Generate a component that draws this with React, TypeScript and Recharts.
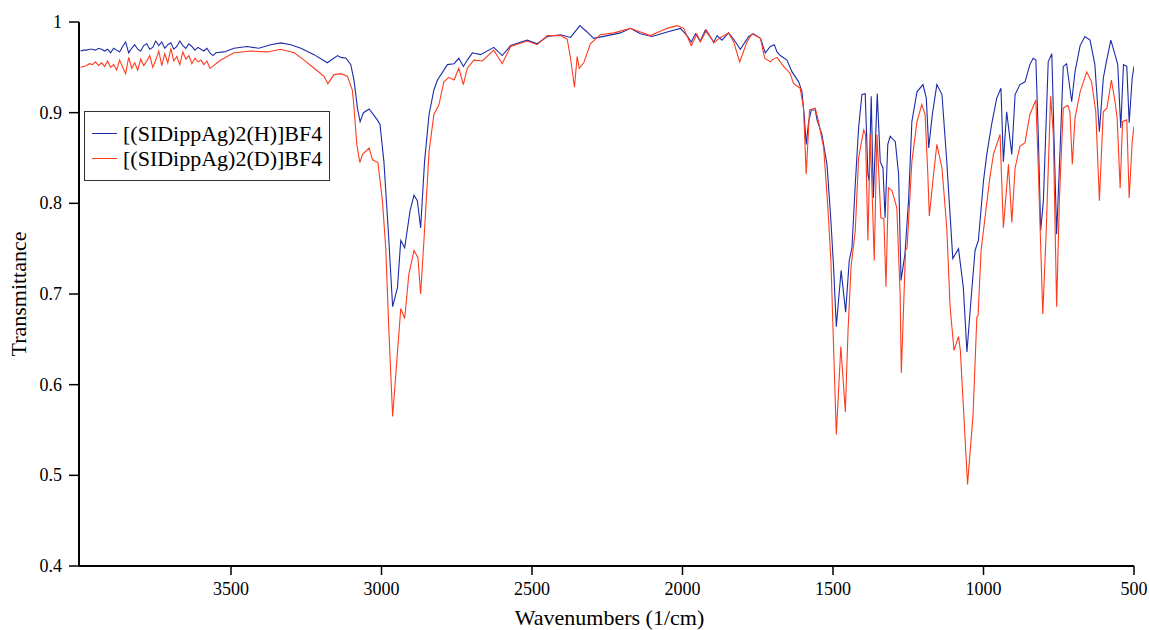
import React from 'react';
import { LineChart, Line, XAxis, YAxis, Legend, Label } from 'recharts';

const FONT = '"Liberation Serif", "Times New Roman", Times, serif';

const H_NAME = '[(SIDippAg)2(H)]BF4';
const D_NAME = '[(SIDippAg)2(D)]BF4';
const H_COLOR = '#1c2ca8';
const D_COLOR = '#ff3c1e';

const xTicks = [3500, 3000, 2500, 2000, 1500, 1000, 500];
const yTicks = [0.4, 0.5, 0.6, 0.7, 0.8, 0.9, 1];
const xDomain: [number, number] = [500, 4005];
const yDomain: [number, number] = [0.4, 1];

// [wavenumber (1/cm), transmittance]
const hSpectrum: [number, number][] = [
  [4000, 0.968], [3990, 0.969], [3980, 0.969], [3970, 0.970], [3960, 0.970], [3950, 0.969],
  [3940, 0.971], [3930, 0.970], [3920, 0.968], [3910, 0.970], [3900, 0.966], [3890, 0.971],
  [3880, 0.969], [3870, 0.967], [3860, 0.973], [3850, 0.978], [3840, 0.966], [3830, 0.971],
  [3820, 0.975], [3810, 0.970], [3800, 0.968], [3790, 0.974], [3780, 0.976], [3770, 0.970],
  [3760, 0.972], [3750, 0.979], [3740, 0.974], [3730, 0.978], [3720, 0.971], [3710, 0.975],
  [3700, 0.977], [3690, 0.970], [3680, 0.973], [3670, 0.979], [3660, 0.974], [3650, 0.971],
  [3640, 0.976], [3630, 0.973], [3620, 0.969], [3610, 0.972], [3600, 0.970], [3590, 0.968],
  [3580, 0.971], [3570, 0.966], [3560, 0.963], [3550, 0.966],
  [3523, 0.967], [3490, 0.971], [3447, 0.973], [3408, 0.971], [3368, 0.975], [3335, 0.977],
  [3301, 0.975], [3268, 0.971], [3224, 0.964], [3180, 0.955], [3146, 0.963], [3135, 0.961],
  [3118, 0.960], [3102, 0.953], [3091, 0.935], [3080, 0.905], [3071, 0.890], [3060, 0.900],
  [3041, 0.904], [3014, 0.892], [3005, 0.887], [2992, 0.846], [2978, 0.773], [2963, 0.686],
  [2947, 0.707], [2936, 0.759], [2923, 0.751], [2905, 0.792], [2892, 0.809], [2881, 0.803],
  [2870, 0.773], [2857, 0.846], [2842, 0.898], [2826, 0.925], [2814, 0.936], [2781, 0.953],
  [2759, 0.954], [2743, 0.960], [2728, 0.951], [2715, 0.958], [2698, 0.966], [2671, 0.964],
  [2627, 0.972], [2599, 0.963], [2571, 0.974], [2516, 0.980], [2483, 0.976], [2449, 0.984],
  [2405, 0.986], [2372, 0.983], [2341, 0.996], [2317, 0.989], [2295, 0.982], [2250, 0.985],
  [2206, 0.988], [2173, 0.993], [2140, 0.987], [2101, 0.984], [2051, 0.989], [2007, 0.993],
  [1985, 0.985], [1971, 0.978], [1957, 0.987], [1941, 0.979], [1924, 0.991], [1896, 0.978],
  [1885, 0.985], [1869, 0.980], [1847, 0.988], [1830, 0.981], [1808, 0.970], [1780, 0.984],
  [1764, 0.987], [1741, 0.982], [1725, 0.966], [1708, 0.973], [1695, 0.975], [1686, 0.967],
  [1675, 0.963], [1653, 0.958], [1636, 0.945], [1614, 0.934], [1603, 0.923], [1595, 0.894],
  [1589, 0.865], [1581, 0.890], [1572, 0.903], [1559, 0.903], [1553, 0.892], [1537, 0.876],
  [1520, 0.843], [1507, 0.781], [1498, 0.729], [1489, 0.664], [1473, 0.726], [1458, 0.680],
  [1446, 0.737], [1437, 0.751], [1426, 0.821], [1415, 0.883], [1404, 0.920], [1393, 0.921],
  [1384, 0.832], [1380, 0.825], [1373, 0.918], [1366, 0.806], [1353, 0.921], [1343, 0.846],
  [1334, 0.839], [1327, 0.784], [1318, 0.865], [1310, 0.874], [1293, 0.868], [1282, 0.832],
  [1274, 0.715], [1261, 0.744], [1249, 0.803], [1238, 0.890], [1221, 0.923], [1201, 0.931],
  [1190, 0.916], [1182, 0.861], [1170, 0.898], [1155, 0.931], [1138, 0.920], [1122, 0.846],
  [1102, 0.739], [1083, 0.750], [1067, 0.707], [1055, 0.636], [1040, 0.700], [1028, 0.748],
  [1017, 0.759], [1000, 0.825], [989, 0.854], [973, 0.887], [956, 0.916], [942, 0.927],
  [934, 0.846], [923, 0.901], [906, 0.854], [895, 0.920], [879, 0.931], [862, 0.934],
  [846, 0.953], [835, 0.960], [826, 0.958], [818, 0.876], [810, 0.770], [801, 0.803],
  [785, 0.956], [773, 0.965], [766, 0.876], [757, 0.766], [748, 0.839], [735, 0.951],
  [724, 0.954], [707, 0.912], [696, 0.945], [679, 0.974], [663, 0.984], [646, 0.980],
  [630, 0.953], [615, 0.879], [602, 0.938], [593, 0.954], [577, 0.980], [563, 0.964],
  [554, 0.953], [544, 0.883], [535, 0.953], [524, 0.951], [516, 0.889], [506, 0.938],
  [500, 0.951],
];

const dSpectrum: [number, number][] = [
  [4000, 0.950], [3990, 0.951], [3980, 0.952], [3970, 0.954], [3960, 0.953], [3950, 0.956],
  [3940, 0.952], [3930, 0.955], [3920, 0.951], [3910, 0.957], [3900, 0.950], [3890, 0.953],
  [3880, 0.947], [3870, 0.958], [3860, 0.950], [3850, 0.943], [3840, 0.961], [3830, 0.949],
  [3820, 0.955], [3810, 0.947], [3800, 0.959], [3790, 0.952], [3780, 0.957], [3770, 0.963],
  [3760, 0.950], [3750, 0.958], [3740, 0.968], [3730, 0.952], [3720, 0.965], [3710, 0.955],
  [3700, 0.971], [3690, 0.957], [3680, 0.962], [3670, 0.953], [3660, 0.967], [3650, 0.959],
  [3640, 0.963], [3630, 0.954], [3620, 0.960], [3610, 0.956], [3600, 0.958], [3590, 0.953],
  [3580, 0.957], [3570, 0.949], [3560, 0.951], [3550, 0.954],
  [3534, 0.958], [3490, 0.966], [3434, 0.968], [3379, 0.967], [3335, 0.970], [3290, 0.966],
  [3257, 0.958], [3224, 0.949], [3191, 0.940], [3178, 0.932], [3158, 0.942], [3135, 0.943],
  [3113, 0.940], [3097, 0.925], [3093, 0.912], [3082, 0.865], [3072, 0.845], [3063, 0.854],
  [3041, 0.861], [3030, 0.848], [3012, 0.845], [2997, 0.803], [2986, 0.751], [2975, 0.656],
  [2963, 0.565], [2953, 0.609], [2936, 0.684], [2923, 0.673], [2909, 0.722], [2892, 0.748],
  [2879, 0.740], [2870, 0.700], [2859, 0.759], [2842, 0.857], [2826, 0.898], [2809, 0.909],
  [2793, 0.934], [2776, 0.939], [2759, 0.936], [2743, 0.949], [2728, 0.931], [2715, 0.949],
  [2693, 0.958], [2665, 0.957], [2627, 0.969], [2599, 0.954], [2571, 0.973], [2516, 0.979],
  [2483, 0.975], [2449, 0.985], [2405, 0.985], [2383, 0.981], [2372, 0.960], [2359, 0.928],
  [2350, 0.962], [2343, 0.949], [2328, 0.955], [2306, 0.976], [2273, 0.986], [2228, 0.988],
  [2173, 0.993], [2107, 0.985], [2051, 0.993], [2018, 0.996], [1996, 0.993], [1971, 0.974],
  [1952, 0.987], [1941, 0.978], [1920, 0.991], [1896, 0.977], [1874, 0.983], [1847, 0.988],
  [1830, 0.978], [1810, 0.956], [1786, 0.978], [1769, 0.987], [1741, 0.982], [1727, 0.960],
  [1708, 0.956], [1703, 0.958], [1686, 0.961], [1664, 0.951], [1642, 0.943], [1631, 0.932],
  [1609, 0.927], [1598, 0.905], [1589, 0.832], [1578, 0.903], [1559, 0.905], [1548, 0.890],
  [1531, 0.861], [1517, 0.795], [1507, 0.737], [1489, 0.545], [1474, 0.642], [1459, 0.570],
  [1450, 0.660], [1440, 0.730], [1426, 0.770], [1415, 0.850], [1398, 0.881], [1392, 0.876],
  [1384, 0.759], [1376, 0.876], [1363, 0.737], [1354, 0.876], [1341, 0.784], [1331, 0.783],
  [1324, 0.708], [1316, 0.817], [1304, 0.814], [1288, 0.795], [1277, 0.700], [1273, 0.613],
  [1259, 0.748], [1254, 0.751], [1238, 0.846], [1221, 0.890], [1205, 0.909], [1194, 0.898],
  [1185, 0.832], [1180, 0.786], [1166, 0.832], [1155, 0.865], [1138, 0.839], [1122, 0.773],
  [1111, 0.686], [1098, 0.638], [1083, 0.653], [1077, 0.638], [1053, 0.490], [1035, 0.565],
  [1022, 0.675], [1018, 0.676], [1008, 0.748], [995, 0.784], [979, 0.828], [967, 0.854],
  [945, 0.876], [934, 0.773], [917, 0.843], [906, 0.779], [895, 0.839], [879, 0.863],
  [862, 0.867], [846, 0.898], [826, 0.914], [818, 0.839], [803, 0.678], [792, 0.766],
  [777, 0.918], [768, 0.876], [757, 0.686], [748, 0.803], [735, 0.905], [720, 0.908],
  [713, 0.901], [705, 0.843], [696, 0.894], [679, 0.923], [657, 0.945], [641, 0.934],
  [627, 0.901], [615, 0.803], [602, 0.901], [590, 0.905], [575, 0.936], [563, 0.912],
  [556, 0.894], [546, 0.817], [538, 0.890], [524, 0.892], [516, 0.806], [506, 0.868],
  [500, 0.885],
];

type Row = { wn: number; h: number | null; d: number | null };

function buildRows(): Row[] {
  const map = new Map<number, Row>();
  for (const [wn, t] of hSpectrum) {
    const r = map.get(wn) ?? { wn, h: null, d: null };
    r.h = t;
    map.set(wn, r);
  }
  for (const [wn, t] of dSpectrum) {
    const r = map.get(wn) ?? { wn, h: null, d: null };
    r.d = t;
    map.set(wn, r);
  }
  return Array.from(map.values()).sort((a, b) => b.wn - a.wn);
}

const rows = buildRows();

const legendItems = [
  { name: H_NAME, color: H_COLOR },
  { name: D_NAME, color: D_COLOR },
];

const renderLegend = () => (
  <div
    style={{
      border: '1px solid #333',
      background: '#fff',
      width: 246,
      height: 70,
      boxSizing: 'border-box',
      padding: '9px 0 0 7px',
      fontFamily: FONT,
      fontSize: 22,
      color: '#000',
    }}
  >
    {legendItems.map((it) => (
      <div key={it.name} style={{ display: 'flex', alignItems: 'center', height: 25, whiteSpace: 'nowrap' }}>
        <span style={{ display: 'inline-block', width: 25, height: 0, borderTop: `1px solid ${it.color}`, marginRight: 6 }} />
        <span style={{ lineHeight: '25px' }}>{it.name}</span>
      </div>
    ))}
  </div>
);

const XTick = (props: any) => {
  const { x, y, payload } = props;
  return (
    <text x={x} y={y} dy="0.75em" textAnchor="middle" fontFamily={FONT} fontSize={18} fill="#000">
      {String(payload.value)}
    </text>
  );
};

const YTick = (props: any) => {
  const { x, y, payload } = props;
  const v = Math.round(payload.value * 10) / 10;
  return (
    <text x={x} y={y} dy="0.34em" textAnchor="end" fontFamily={FONT} fontSize={18} fill="#000">
      {String(v)}
    </text>
  );
};

export default function App() {
  return (
    <div style={{ position: 'absolute', left: 0, top: 0, width: 1150, height: 630, background: '#fff' }}>
      <LineChart
        width={1150}
        height={630}
        data={rows}
        margin={{ top: 22, right: 16, bottom: 0, left: 0 }}
        style={{ fontFamily: FONT }}
      >
        <XAxis
          dataKey="wn"
          type="number"
          domain={xDomain}
          reversed
          ticks={xTicks}
          allowDataOverflow
          height={64}
          tickSize={9}
          tickMargin={6}
          tick={<XTick />}
          axisLine={{ stroke: '#000', strokeWidth: 2 }}
          tickLine={{ stroke: '#000', strokeWidth: 1.5 }}
        >
          <Label
            content={(props: any) => {
              const vb = props.viewBox || {};
              const cx = (vb.x ?? 0) + (vb.width ?? 0) / 2;
              return (
                <text x={cx + 3} y={617} textAnchor="middle" dominantBaseline="central" fontFamily={FONT} fontSize={22} fill="#000">
                  Wavenumbers (1/cm)
                </text>
              );
            }}
          />
        </XAxis>
        <YAxis
          type="number"
          domain={yDomain}
          ticks={yTicks}
          allowDataOverflow
          width={79}
          tickSize={10}
          tickMargin={7}
          tick={<YTick />}
          axisLine={{ stroke: '#000', strokeWidth: 2 }}
          tickLine={{ stroke: '#000', strokeWidth: 1.5 }}
        >
          <Label
            content={(props: any) => {
              const vb = props.viewBox || {};
              const cy = (vb.y ?? 0) + (vb.height ?? 0) / 2;
              return (
                <text
                  x={18}
                  y={cy}
                  transform={`rotate(-90 18 ${cy})`}
                  textAnchor="middle"
                  dominantBaseline="central"
                  fontFamily={FONT}
                  fontSize={22}
                  fill="#000"
                >
                  Transmittance
                </text>
              );
            }}
          />
        </YAxis>
        <Legend
          layout="vertical"
          align="center"
          verticalAlign="middle"
          content={renderLegend}
          wrapperStyle={{ left: 84, top: 111, width: 'auto', height: 'auto' }}
        />
        <Line
          type="linear"
          dataKey="h"
          name={H_NAME}
          stroke={H_COLOR}
          strokeWidth={1.1}
          dot={false}
          activeDot={false}
          connectNulls
          isAnimationActive={false}
        />
        <Line
          type="linear"
          dataKey="d"
          name={D_NAME}
          stroke={D_COLOR}
          strokeWidth={1.1}
          dot={false}
          activeDot={false}
          connectNulls
          isAnimationActive={false}
        />
      </LineChart>
    </div>
  );
}
